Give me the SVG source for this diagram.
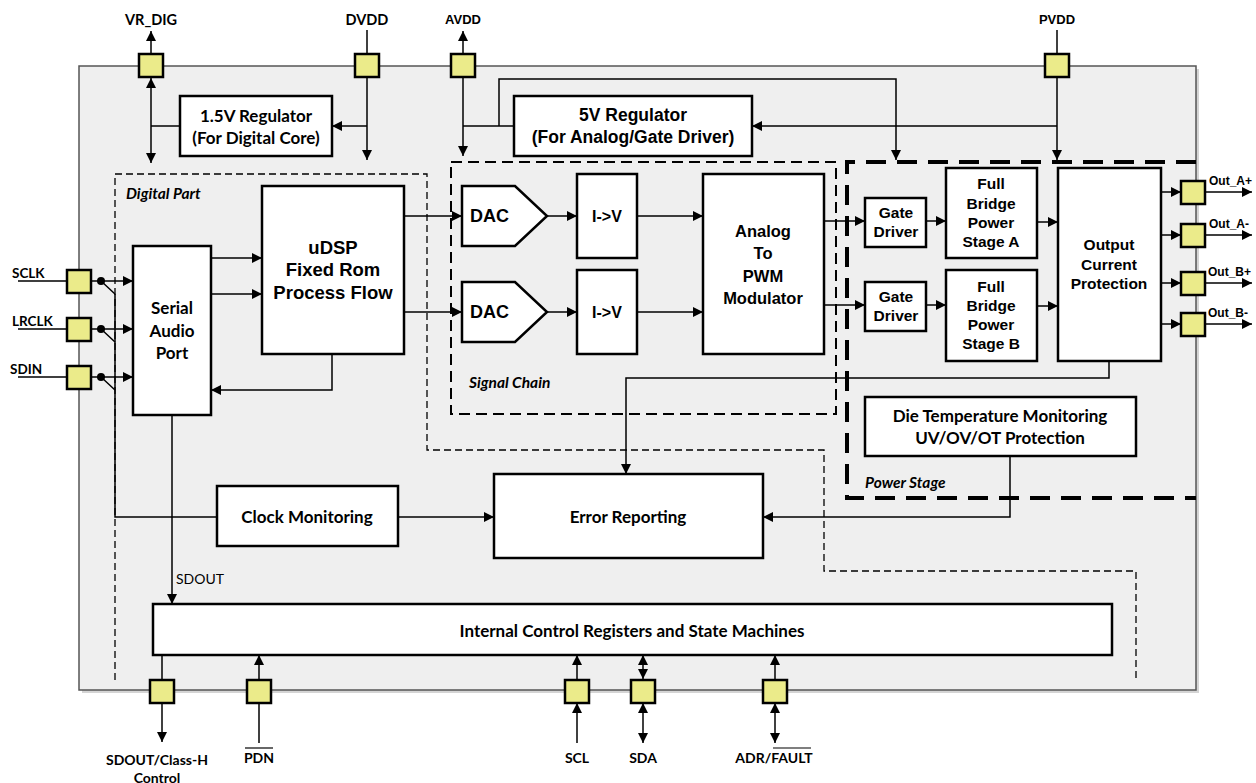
<svg xmlns="http://www.w3.org/2000/svg" width="1256" height="783" viewBox="0 0 1256 783">
<defs>
<marker id="a" viewBox="0 0 10 10" refX="10" refY="5" markerWidth="10" markerHeight="10" markerUnits="userSpaceOnUse" orient="auto-start-reverse"><path d="M0,0 L10,5 L0,10 z" fill="#000"/></marker>
</defs>
<style>
.bx{fill:#fff;stroke:#000;stroke-width:2.5}
.pin{fill:#ebeb8a;stroke:#000;stroke-width:2.5}
.c{fill:none;stroke:#000;stroke-width:1.5}
.ar{marker-end:url(#a)}
.da{marker-start:url(#a);marker-end:url(#a)}
.tc{font-family:Lato,"Liberation Sans",sans-serif;font-weight:bold;fill:#000}
.ta{font-family:"Liberation Sans",Arial,sans-serif;font-weight:bold;fill:#000}
.it{font-family:Lato,"Liberation Sans",sans-serif;font-weight:bold;font-style:italic;font-size:15.5px;fill:#000}
text{dominant-baseline:central}
.m{text-anchor:middle}
</style>
<rect x="0" y="0" width="1256" height="783" fill="#fff"/>
<g id="chip">
<rect x="82" y="69" width="1117" height="624" fill="#d4d4d4"/>
<rect x="79" y="66" width="1117" height="624" fill="#efefef" stroke="#555" stroke-width="1.5"/>
</g>
<g id="regions">
<path d="M115,680 V174 H427 V450 H824 V571 H1136 V680" fill="none" stroke="#000" stroke-width="1.3" stroke-dasharray="7,4"/>
<rect x="451" y="162" width="385" height="252" fill="none" stroke="#000" stroke-width="2" stroke-dasharray="11,6"/>
<path d="M1196,162 H847 V498 H1196" fill="none" stroke="#000" stroke-width="4" stroke-dasharray="20,11"/>
<text class="it" x="126" y="193">Digital Part</text>
<text class="it" x="469" y="382">Signal Chain</text>
<text class="it" x="865" y="482">Power Stage</text>
</g>
<g id="connectors">
<path class="c ar" d="M151,54 V31"/>
<path class="c da" d="M151,78 V163"/>
<path class="c" d="M180,126 H151"/>
<path class="c" d="M367,30 V54"/>
<path class="c ar" d="M367,78 V160"/>
<path class="c ar" d="M367,126 H332"/>
<path class="c ar" d="M463,54 V31"/>
<path class="c ar" d="M463,78 V156"/>
<path class="c" d="M514,126 H463"/>
<path class="c ar" d="M499,126 V79 H896 V160"/>
<path class="c" d="M1057,30 V54"/>
<path class="c ar" d="M1057,78 V160"/>
<path class="c ar" d="M1057,126 H752"/>
<path class="c" d="M18,281 H67 M18,329 H67 M18,377 H67"/>
<path class="c ar" d="M91,281 H133"/>
<path class="c ar" d="M91,329 H133"/>
<path class="c ar" d="M91,377 H133"/>
<path class="c" d="M101,281 L115,294 M101,329 L115,342 M101,377 L115,390"/>
<path class="c" d="M115,294 V517 H217"/>
<path class="c ar" d="M211,258 H262"/>
<path class="c ar" d="M211,294 H262"/>
<path class="c ar" d="M332,354 V390 H211"/>
<path class="c ar" d="M404,216 H462"/>
<path class="c ar" d="M404,312 H462"/>
<path class="c ar" d="M547,216 H577"/>
<path class="c ar" d="M547,312 H577"/>
<path class="c ar" d="M637,216 H703"/>
<path class="c ar" d="M637,312 H703"/>
<path class="c ar" d="M824,221 H865"/>
<path class="c ar" d="M824,305 H865"/>
<path class="c ar" d="M926,221 H946"/>
<path class="c ar" d="M926,305 H946"/>
<path class="c ar" d="M1037,222 H1058"/>
<path class="c ar" d="M1037,306 H1058"/>
<path class="c ar" d="M1161,192 H1181"/>
<path class="c ar" d="M1161,235 H1181"/>
<path class="c ar" d="M1161,283 H1181"/>
<path class="c ar" d="M1161,324 H1181"/>
<path class="c ar" d="M1205,192 H1252"/>
<path class="c ar" d="M1205,235 H1252"/>
<path class="c ar" d="M1205,283 H1252"/>
<path class="c ar" d="M1205,324 H1252"/>
<path class="c ar" d="M1109,361 V378 H626 V474"/>
<path class="c ar" d="M1010,456 V517 H763"/>
<path class="c ar" d="M398,517 H494"/>
<path class="c ar" d="M172,415 V604"/>
<path class="c" d="M162,655 V679"/>
<path class="c ar" d="M162,703 V742"/>
<path class="c" d="M259,743 V703"/>
<path class="c ar" d="M259,679 V655"/>
<path class="c ar" d="M577,743 V703"/>
<path class="c ar" d="M577,679 V655"/>
<path class="c da" d="M643,679 V655"/>
<path class="c da" d="M643,703 V743"/>
<path class="c ar" d="M775,679 V655"/>
<path class="c da" d="M775,703 V743"/>
<circle cx="101" cy="281" r="4"/>
<circle cx="101" cy="329" r="4"/>
<circle cx="101" cy="377" r="4"/>
<text class="tc" x="176" y="578" style="font-weight:normal;font-size:14px">SDOUT</text>
</g>
<g id="pin-vrdig"><rect class="pin" x="139" y="54" width="24" height="23"/><text class="tc m" x="151" y="19" font-size="14.5">VR_DIG</text></g>
<g id="pin-dvdd"><rect class="pin" x="355" y="54" width="24" height="23"/><text class="tc m" x="367" y="19" font-size="14.5">DVDD</text></g>
<g id="pin-avdd"><rect class="pin" x="451" y="54" width="24" height="23"/><text class="ta m" x="463" y="19" font-size="13">AVDD</text></g>
<g id="pin-pvdd"><rect class="pin" x="1045" y="54" width="24" height="23"/><text class="ta m" x="1057" y="19" font-size="13">PVDD</text></g>
<g id="pin-sclk"><rect class="pin" x="67" y="270" width="24" height="23"/><text class="tc" x="12" y="273" font-size="13.5">SCLK</text></g>
<g id="pin-lrclk"><rect class="pin" x="67" y="318" width="24" height="23"/><text class="tc" x="12" y="321" font-size="13.5">LRCLK</text></g>
<g id="pin-sdin"><rect class="pin" x="67" y="366" width="24" height="23"/><text class="tc" x="10" y="369" font-size="13.5">SDIN</text></g>
<g id="pin-outap"><rect class="pin" x="1181" y="181" width="24" height="23"/><text class="ta" x="1209" y="181" font-size="12">Out_A+</text></g>
<g id="pin-outam"><rect class="pin" x="1181" y="224" width="24" height="23"/><text class="ta" x="1209" y="224" font-size="12">Out_A-</text></g>
<g id="pin-outbp"><rect class="pin" x="1181" y="272" width="24" height="23"/><text class="ta" x="1208" y="272" font-size="12">Out_B+</text></g>
<g id="pin-outbm"><rect class="pin" x="1181" y="313" width="24" height="23"/><text class="ta" x="1208" y="313" font-size="12">Out_B-</text></g>
<g id="pin-sdout"><rect class="pin" x="150" y="680" width="24" height="23"/><text class="tc m" x="157" y="759" font-size="14">SDOUT/Class-H</text><text class="tc m" x="157" y="777" font-size="14">Control</text></g>
<g id="pin-pdn"><rect class="pin" x="247" y="680" width="24" height="23"/><text class="tc m" x="259" y="757" font-size="14">PDN</text><path d="M245,748 H273" stroke="#000" stroke-width="1.2"/></g>
<g id="pin-scl"><rect class="pin" x="565" y="680" width="24" height="23"/><text class="tc m" x="577" y="757" font-size="14">SCL</text></g>
<g id="pin-sda"><rect class="pin" x="631" y="680" width="24" height="23"/><text class="tc m" x="643" y="757" font-size="14">SDA</text></g>
<g id="pin-adr"><rect class="pin" x="763" y="680" width="24" height="23"/><text class="tc m" x="774" y="757" font-size="14">ADR/FAULT</text><path d="M773,748 H811" stroke="#000" stroke-width="1.2"/></g>
<g id="reg15"><rect class="bx" x="180" y="96" width="152" height="60"/><text class="tc m" x="256" y="115" font-size="17">1.5V Regulator</text><text class="tc m" x="256" y="137" font-size="17">(For Digital Core)</text></g>
<g id="reg5"><rect class="bx" x="514" y="96" width="238" height="60"/><text class="ta m" x="633" y="115" font-size="17.5">5V Regulator</text><text class="ta m" x="633" y="137" font-size="17.5">(For Analog/Gate Driver)</text></g>
<g id="sap"><rect class="bx" x="133" y="246" width="78" height="169"/><text class="tc m" x="172" y="307" font-size="17">Serial</text><text class="tc m" x="172" y="330" font-size="17">Audio</text><text class="tc m" x="172" y="352" font-size="17">Port</text></g>
<g id="udsp"><rect class="bx" x="262" y="186" width="142" height="168"/><text class="ta m" x="333" y="247" font-size="18.5">uDSP</text><text class="ta m" x="333" y="269" font-size="18.5">Fixed Rom</text><text class="ta m" x="333" y="292" font-size="18.5">Process Flow</text></g>
<g id="dac1"><path class="bx" d="M462,186 H515 L547,216 L515,246 H462 Z"/><text class="ta" x="470" y="216" font-size="18">DAC</text></g>
<g id="dac2"><path class="bx" d="M462,282 H515 L547,312 L515,342 H462 Z"/><text class="ta" x="470" y="312" font-size="18">DAC</text></g>
<g id="iv1"><rect class="bx" x="577" y="174" width="60" height="84"/><text class="ta m" x="607" y="216" font-size="16">I-&gt;V</text></g>
<g id="iv2"><rect class="bx" x="577" y="270" width="60" height="84"/><text class="ta m" x="607" y="312" font-size="16">I-&gt;V</text></g>
<g id="pwm"><rect class="bx" x="703" y="174" width="121" height="180"/><text class="ta m" x="763" y="231" font-size="16.5">Analog</text><text class="ta m" x="763" y="253" font-size="16.5">To</text><text class="ta m" x="763" y="276" font-size="16.5">PWM</text><text class="ta m" x="763" y="298" font-size="16.5">Modulator</text></g>
<g id="gate1"><rect class="bx" x="865" y="198" width="61" height="49"/><text class="ta m" x="896" y="212" font-size="15.5">Gate</text><text class="ta m" x="896" y="231" font-size="15.5">Driver</text></g>
<g id="gate2"><rect class="bx" x="865" y="282" width="61" height="49"/><text class="ta m" x="896" y="296" font-size="15.5">Gate</text><text class="ta m" x="896" y="315" font-size="15.5">Driver</text></g>
<g id="fba"><rect class="bx" x="946" y="168" width="91" height="90"/><text class="ta m" x="991" y="183" font-size="15.5">Full</text><text class="ta m" x="991" y="203" font-size="15.5">Bridge</text><text class="ta m" x="991" y="222" font-size="15.5">Power</text><text class="ta m" x="991" y="241" font-size="15.5">Stage A</text></g>
<g id="fbb"><rect class="bx" x="946" y="270" width="91" height="91"/><text class="ta m" x="991" y="286" font-size="15.5">Full</text><text class="ta m" x="991" y="305" font-size="15.5">Bridge</text><text class="ta m" x="991" y="324" font-size="15.5">Power</text><text class="ta m" x="991" y="343" font-size="15.5">Stage B</text></g>
<g id="ocp"><rect class="bx" x="1058" y="168" width="103" height="193"/><text class="ta m" x="1109" y="244" font-size="15.5">Output</text><text class="ta m" x="1109" y="264" font-size="15.5">Current</text><text class="ta m" x="1109" y="283" font-size="15.5">Protection</text></g>
<g id="dietemp"><rect class="bx" x="865" y="397" width="271" height="59"/><text class="tc m" x="1000" y="415" font-size="17">Die Temperature Monitoring</text><text class="tc m" x="1000" y="437" font-size="17">UV/OV/OT Protection</text></g>
<g id="clockmon"><rect class="bx" x="217" y="486" width="181" height="60"/><text class="tc m" x="307" y="516" font-size="17">Clock Monitoring</text></g>
<g id="error"><rect class="bx" x="494" y="474" width="269" height="84"/><text class="tc m" x="628" y="516" font-size="17">Error Reporting</text></g>
<g id="icr"><rect class="bx" x="153" y="604" width="959" height="51"/><text class="tc m" x="632" y="630" font-size="17">Internal Control Registers and State Machines</text></g>
</svg>
